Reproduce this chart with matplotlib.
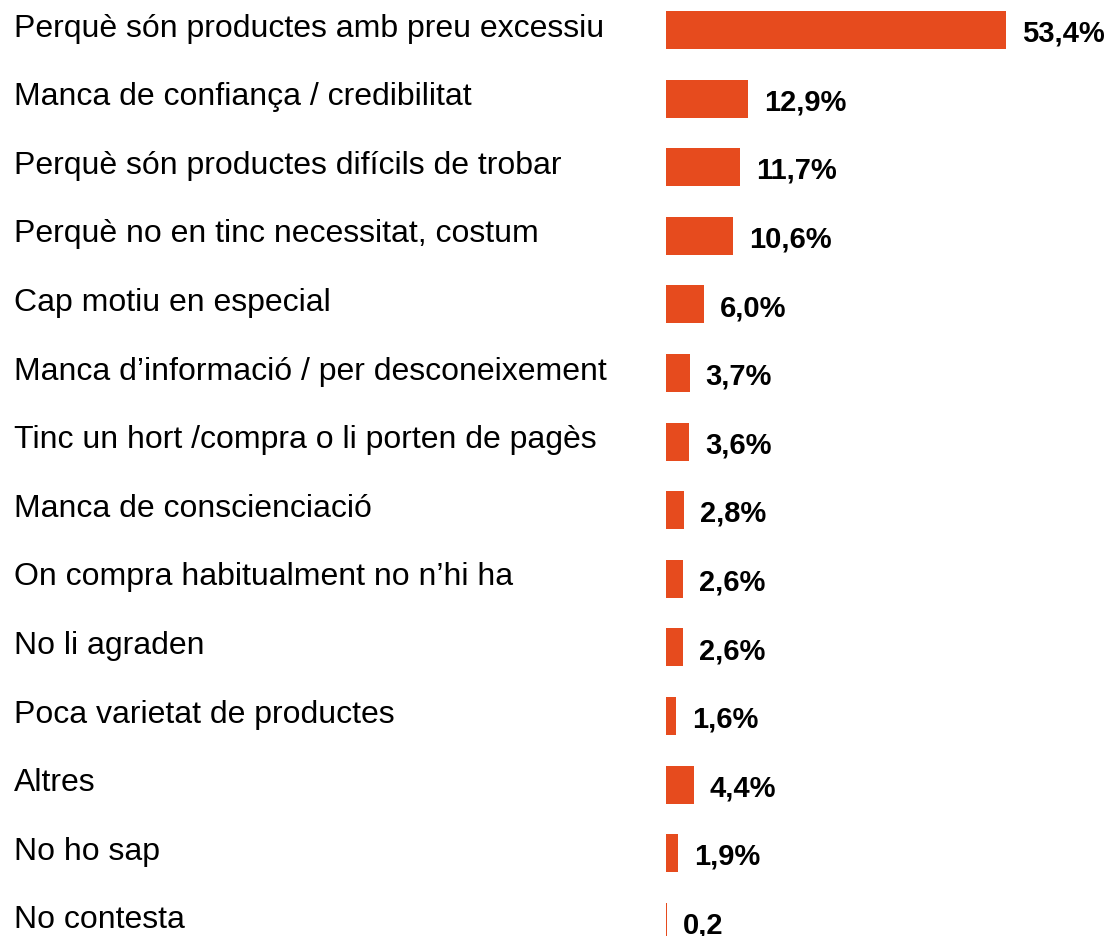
import matplotlib.pyplot as plt
import matplotlib.transforms as mtransforms

# reasons for not buying organic produce (% of answers)
motius = [
    'Perquè són productes amb preu excessiu',
    'Manca de confiança / credibilitat',
    'Perquè són productes difícils de trobar',
    'Perquè no en tinc necessitat, costum',
    'Cap motiu en especial',
    'Manca d\u2019informació / per desconeixement',
    'Tinc un hort /compra o li porten de pagès',
    'Manca de conscienciació',
    'On compra habitualment no n\u2019hi ha',
    'No li agraden',
    'Poca varietat de productes',
    'Altres',
    'No ho sap',
    'No contesta',
]
percentatges = [53.4, 12.9, 11.7, 10.6, 6.0, 3.7, 3.6, 2.8, 2.6, 2.6, 1.6, 4.4, 1.9, 0.2]
etiquetes = ['53,4%', '12,9%', '11,7%', '10,6%', '6,0%', '3,7%', '3,6%', '2,8%',
             '2,6%', '2,6%', '1,6%', '4,4%', '1,9%', '0,2']

plt.rcParams['font.family'] = ['Liberation Sans', 'DejaVu Sans']

W, H = 1109, 937
fig = plt.figure(figsize=(W / 100, H / 100), dpi=100)
x0 = 666
px_per_pct = 6.36
row = 68.6
top = 31
ax = fig.add_axes([x0 / W, 0, 1 - x0 / W, 1])
ax.set_xlim(0, (W - x0) / px_per_pct)
ax.set_ylim((H - top) / row, -top / row)
ax.axis('off')

pos = list(range(len(motius)))
ax.barh(pos, percentatges, height=38 / row, color='#E64B1E')

# category names on the left, in figure x / data y
trans = mtransforms.blended_transform_factory(fig.transFigure, ax.transData)
for i, m in enumerate(motius):
    ax.text(14 / W, i + 5.7 / row, m, transform=trans, fontsize=23,
            va='baseline', ha='left', color='black', clip_on=False)

for i, (v, t) in enumerate(zip(percentatges, etiquetes)):
    ax.text(v + 16 / px_per_pct, i + 10.7 / row, t, fontsize=21, fontweight='bold',
            va='baseline', ha='left', color='black', clip_on=False)

fig.savefig('out.png', dpi=100)
